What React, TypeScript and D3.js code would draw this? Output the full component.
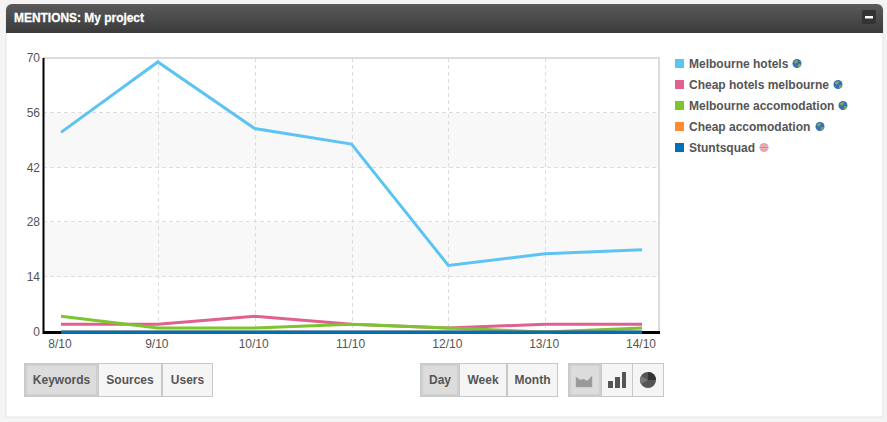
import React from "react";
import * as d3 from "d3";

const categories = ["8/10", "9/10", "10/10", "11/10", "12/10", "13/10", "14/10"];
const melbourneHotels = [51, 69, 52, 48, 17, 20, 21];
const cheapHotels = [2, 2, 4, 2, 1, 2, 2];
const melbourneAccom = [4, 1, 1, 2, 1, 0, 1];
const cheapAccom = [0, 0, 0, 0, 0, 0, 0];
const stuntsquad = [0, 0, 0, 0, 0, 0, 0];
const yTicks = [0, 14, 28, 42, 56, 70];
const seriesNames = ["Melbourne hotels", "Cheap hotels melbourne", "Melbourne accomodation", "Cheap accomodation", "Stuntsquad"];
const seriesColors = ["#5cc4f2", "#e0608f", "#7cc52f", "#ff8c2e", "#0070b8"];
const seriesValues = [melbourneHotels, cheapHotels, melbourneAccom, cheapAccom, stuntsquad];
const groupA = ["Keywords", "Sources", "Users"];
const groupB = ["Day", "Week", "Month"];

const font = "'Liberation Sans', Arial, sans-serif";

function Btn({ x, w, label, active, children }: any) {
  return (
    <g>
      <rect x={x + 0.5} y={363.5} width={w - 1} height={33} fill={active ? "#dcdcdc" : "#f5f5f5"} stroke="#c8c8c8" />
      {active && <rect x={x + 2} y={365} width={w - 4} height={30} fill="none" stroke="#cfcfcf" strokeWidth={2} />}
      {label && (
        <text x={x + w / 2} y={384} textAnchor="middle" fontFamily={font} fontSize={12} fontWeight="bold" fill="#555">
          {label}
        </text>
      )}
      {children}
    </g>
  );
}

function Globe({ cx, cy, flag }: any) {
  if (flag) {
    return (
      <g>
        <circle cx={cx} cy={cy} r={4.5} fill="#e8a0b0" />
        <path d={`M${cx - 4.5} ${cy}H${cx + 4.5}M${cx} ${cy - 4.5}V${cy + 4.5}`} stroke="#fff" strokeWidth={1.4} />
        <path d={`M${cx - 4.5} ${cy}H${cx + 4.5}M${cx} ${cy - 4.5}V${cy + 4.5}`} stroke="#c84a60" strokeWidth={0.7} />
      </g>
    );
  }
  return (
    <g>
      <circle cx={cx} cy={cy} r={4.5} fill="#3a70b5" />
      <path d={`M${cx - 3} ${cy - 2}q2 -2 4 -1q0 2 -2 3q-2 0 -2 -2zM${cx + 1} ${cy + 1}q2 -1 3 0q-1 3 -3 3z`} fill="#7fae4a" />
    </g>
  );
}

export default function App() {
  const x = d3.scalePoint<string>().domain(categories).range([61, 642]);
  const y = d3.scaleLinear().domain([0, 70]).range([332, 58]);
  const line = d3
    .line<number>()
    .x((_, i) => x(categories[i]) as number)
    .y((d) => y(d));
  const left = 43;
  const right = 659;
  const legendGlobeX = [797, 838, 843, 820, 764];

  return (
    <svg width={887} height={422} style={{ position: "absolute", left: 0, top: 0 }}>
      <defs>
        <linearGradient id="hdr" x1="0" y1="0" x2="0" y2="1">
          <stop offset="0" stopColor="#5a5a5a" />
          <stop offset="1" stopColor="#3a3a3a" />
        </linearGradient>
      </defs>
      <rect width={887} height={422} fill="#f4f4f4" />
      <rect x={6} y={5} width={877} height={412} fill="#fff" stroke="#e4e4e4" strokeWidth={1} />
      <path d="M6 33V10a6 6 0 0 1 6 -6H877a6 6 0 0 1 6 6V33Z" fill="url(#hdr)" />
      <text x={14} y={22} fontFamily={font} fontSize={12} fontWeight="bold" fill="#fff" stroke="#fff" strokeWidth={0.3} textLength={130} lengthAdjust="spacingAndGlyphs">
        MENTIONS: My project
      </text>
      <rect x={862} y={10} width={14} height={14} rx={2} fill="#333" />
      <rect x={865} y={16} width={8} height={2.5} fill="#fff" />

      {[[42, 56], [14, 28]].map(([a, b]) => (
        <rect key={a} x={left} y={y(b)} width={right - left} height={y(a) - y(b)} fill="#f8f8f8" />
      ))}
      {yTicks.slice(1, -1).map((t) => (
        <line key={t} x1={left} x2={right} y1={Math.round(y(t)) - 0.5} y2={Math.round(y(t)) - 0.5} stroke="#dddddd" strokeDasharray="4 3" />
      ))}
      {categories.slice(1, -1).map((c) => (
        <line key={c} x1={Math.round(x(c) as number) + 0.5} x2={Math.round(x(c) as number) + 0.5} y1={58} y2={332} stroke="#dddddd" strokeDasharray="4 3" />
      ))}
      <line x1={left} x2={right} y1={58} y2={58} stroke="#dcdcdc" strokeWidth={2} />
      <line x1={right} x2={right} y1={57} y2={333} stroke="#dcdcdc" strokeWidth={2} />
      <line x1={43.5} x2={43.5} y1={58} y2={334} stroke="#000" strokeWidth={2} />
      <line x1={43} x2={660} y1={332.5} y2={332.5} stroke="#000" strokeWidth={3} />

      {yTicks.map((t) => (
        <text key={t} x={40} y={y(t) + 4} textAnchor="end" fontFamily={font} fontSize={12} fill="#555">
          {t}
        </text>
      ))}
      {categories.map((c) => (
        <text key={c} x={(x(c) as number) - 1} y={347.5} textAnchor="middle" fontFamily={font} fontSize={12} fill="#555">
          {c}
        </text>
      ))}

      {seriesValues.map((vals, i) => (
        <path key={i} d={line(vals) as string} fill="none" stroke={seriesColors[i]} strokeWidth={3} />
      ))}

      {seriesNames.map((n, i) => (
        <g key={n}>
          <rect x={675} y={59 + i * 21} width={9} height={9} fill={seriesColors[i]} />
          <text x={689} y={67.5 + i * 21} fontFamily={font} fontSize={12} fontWeight="bold" fill="#555">
            {n}
          </text>
          <Globe cx={legendGlobeX[i]} cy={63.5 + i * 21} flag={i === 4} />
        </g>
      ))}

      <Btn x={24} w={75} label={groupA[0]} active />
      <Btn x={98} w={64} label={groupA[1]} />
      <Btn x={162} w={51} label={groupA[2]} />

      <Btn x={420} w={40} label={groupB[0]} active />
      <Btn x={459} w={48} label={groupB[1]} />
      <Btn x={507} w={51} label={groupB[2]} />

      <Btn x={568} w={34} active>
        <path d="M576 377l4 3 4 -1 3 2 5 -5 0 11h-16z" fill="#999" stroke="#aaa" strokeWidth={0.5} />
      </Btn>
      <Btn x={601} w={32}>
        <rect x={608} y={381} width={5} height={7} fill="#555" />
        <rect x={615} y={377} width={5} height={11} fill="#555" />
        <rect x={622} y={372} width={4} height={16} fill="#555" />
      </Btn>
      <Btn x={632} w={32}>
        <circle cx={648} cy={380} r={8} fill="#555" />
        <path d="M648 380V372A8 8 0 0 1 656 380Z" fill="#333" />
        <path d="M648 380L641 384A8 8 0 0 1 641 376Z" fill="#777" />
      </Btn>
    </svg>
  );
}
